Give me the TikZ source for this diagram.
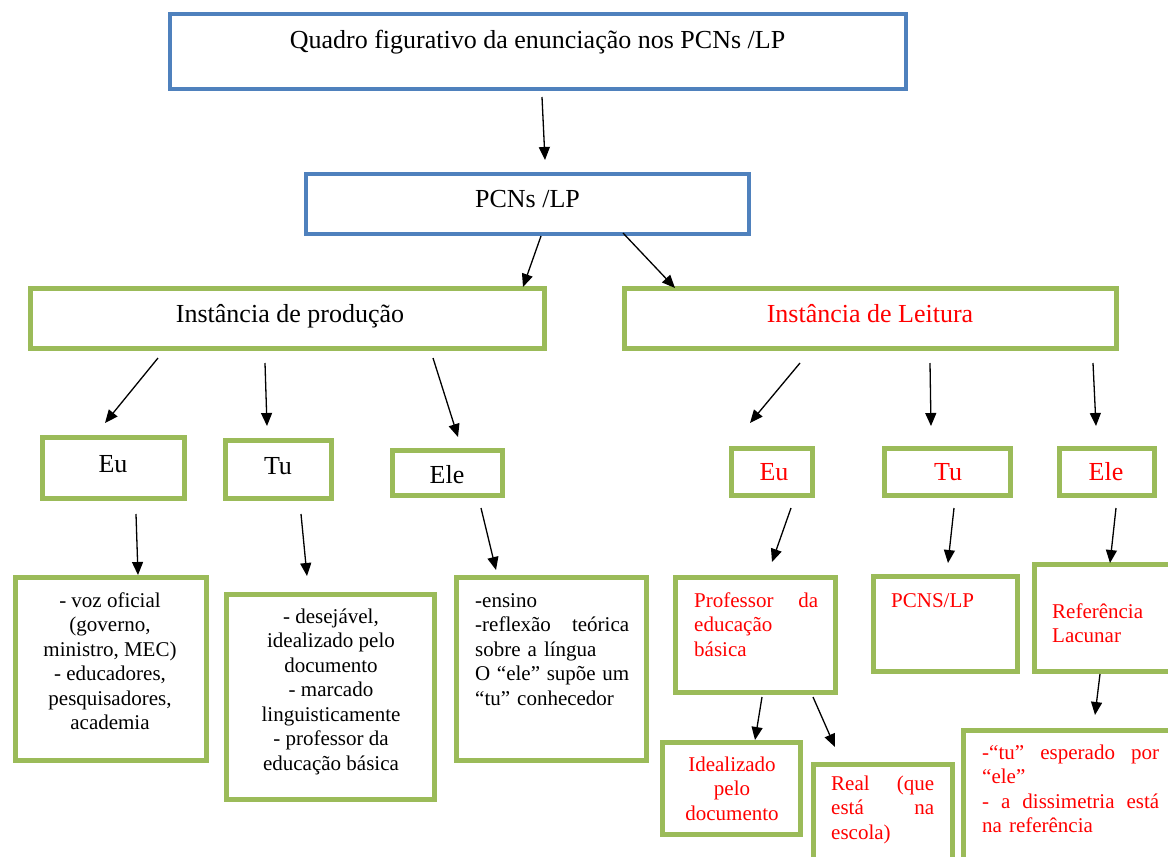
\documentclass[tikz,border=0pt]{standalone}
\usepackage{fontspec}
\setmainfont{Liberation Serif}
\usetikzlibrary{arrows.meta}
\definecolor{bxblue}{HTML}{4F81BD}
\definecolor{bxgreen}{HTML}{9BBB59}
\definecolor{txred}{HTML}{FF0000}
\newcommand{\jline}[1]{\leavevmode\hbox to \linewidth{#1}}
\tikzset{
  bluebox/.style={draw=bxblue, line width=4pt, inner sep=0pt},
  greenbox/.style={draw=bxgreen, line width=5pt, inner sep=0pt},
  bigtxt/.style={font=\fontsize{26}{30}\selectfont, inner sep=0pt},
  smalltxt/.style={font=\fontsize{21}{24.5}\selectfont, inner sep=0pt},
  redtxt/.style={text=txred},
  arr/.style={line width=1.3pt, -{Triangle[length=13pt,width=11pt]}},
}
\begin{document}
\begin{tikzpicture}[x=1pt,y=-1pt]
\useasboundingbox (0,0) rectangle (1168,857);
\clip (0,0) rectangle (1168,857);
\fill[white] (0,0) rectangle (1168,857);

% boxes
\node[bluebox, minimum width=736pt, minimum height=75pt] (top) at (538,51.5) {};
\node[bluebox, minimum width=443pt, minimum height=60pt] (pcn) at (527.5,204) {};
\node[greenbox, minimum width=514pt, minimum height=60pt] (prod) at (287.5,318.5) {};
\node[greenbox, minimum width=492pt, minimum height=60pt] (leit) at (870.5,318.5) {};
\node[greenbox, minimum width=142pt, minimum height=61pt] (eua) at (113.5,468) {};
\node[greenbox, minimum width=106pt, minimum height=58pt] (tua) at (278.5,469.5) {};
\node[greenbox, minimum width=110pt, minimum height=45pt] (elea) at (447.5,473) {};
\node[greenbox, minimum width=81pt, minimum height=47pt] (eub) at (772,472) {};
\node[greenbox, minimum width=126pt, minimum height=47pt] (tub) at (947.5,472) {};
\node[greenbox, minimum width=95pt, minimum height=47pt] (eleb) at (1107,472) {};
\node[greenbox, minimum width=191pt, minimum height=183pt] (voz) at (111,669) {};
\node[greenbox, minimum width=208pt, minimum height=205pt] (des) at (330.5,697) {};
\node[greenbox, minimum width=190pt, minimum height=183pt] (ens) at (551.5,669) {};
\node[greenbox, minimum width=160pt, minimum height=115pt] (prof) at (755.5,635) {};
\node[greenbox, minimum width=138pt, minimum height=92pt] (idea) at (731.5,788.5) {};
\node[greenbox, minimum width=139pt, minimum height=113pt] (real) at (883,821) {};
\node[greenbox, minimum width=144pt, minimum height=95pt] (pcns) at (945.5,624) {};
\node[greenbox, minimum width=153pt, minimum height=107pt] (ref) at (1111,618) {};
\node[greenbox, minimum width=224pt, minimum height=147pt] (dis) at (1075.5,804) {};

% texts
\node[bigtxt, anchor=base] (toptxt) at (537.5,48) {Quadro figurativo da enunciação nos PCNs /LP};
\node[bigtxt, anchor=base] (pcntxt) at (527.5,207) {PCNs /LP};
\node[bigtxt, anchor=base] (prodtxt) at (290,322) {Instância de produção};
\node[bigtxt, redtxt, anchor=base] (leittxt) at (870,322) {Instância de Leitura};
\node[bigtxt, anchor=base] (euatxt) at (113,472) {Eu};
\node[bigtxt, anchor=base] (tuatxt) at (278,474) {Tu};
\node[bigtxt, anchor=base] (eleatxt) at (447,483) {Ele};
\node[bigtxt, redtxt, anchor=base] (eubtxt) at (774,480) {Eu};
\node[bigtxt, redtxt, anchor=base] (tubtxt) at (948,480) {Tu};
\node[bigtxt, redtxt, anchor=base] (elebtxt) at (1106,480) {Ele};

\node[smalltxt, align=center, anchor=north] (voztxt) at (110,590)
  {\strut - voz oficial\\(governo,\\ministro, MEC)\\- educadores,\\pesquisadores,\\academia};
\node[smalltxt, align=center, anchor=north] (destxt) at (331,606)
  {\strut - desejável,\\idealizado pelo\\documento\\ - marcado\\linguisticamente\\- professor da\\educação básica};
\node[smalltxt, text width=154pt, align=left, anchor=north west] (enstxt) at (475,590)
  {\strut -ensino\\\jline{-reflexão\hfill teórica}\\sobre a língua\\\jline{O\hfill “ele”\hfill supõe\hfill um}\\“tu” conhecedor};
\node[smalltxt, redtxt, text width=124pt, align=left, anchor=north west] (proftxt) at (694,590)
  {\strut\jline{Professor\hfill da}\\educação\\básica};
\node[smalltxt, redtxt, align=center, anchor=north] (ideatxt) at (732,754)
  {\strut Idealizado\\pelo\\documento};
\node[smalltxt, redtxt, text width=103pt, align=left, anchor=north west] (realtxt) at (831,773)
  {\strut\jline{Real\hfill (que}\\\jline{está\hfill na}\\escola)};
\node[smalltxt, redtxt, anchor=base west] (pcnstxt) at (891,607) {PCNS/LP};
\node[smalltxt, redtxt, align=left, anchor=north west] (reftxt) at (1052,601)
  {\strut Referência\\Lacunar};
\node[smalltxt, redtxt, text width=177pt, align=left, anchor=north west] (distxt) at (982,742)
  {\strut\jline{-“tu”\hfill esperado\hfill por}\\“ele”\\\jline{-\hfill a\hfill dissimetria\hfill está}\\na referência};

% connectors
\draw[arr] ([shift={(4,45.5)}]top.center) -- ([shift={(17.5,-44)}]pcn.center);
\draw[arr] ([shift={(13.5,32)}]pcn.center) -- ([shift={(235.5,-31.5)}]prod.center);
\draw[arr] ([shift={(95.5,29)}]pcn.center) -- ([shift={(-195.5,-30.5)}]leit.center);
\draw[arr] ([shift={(-129.5,39.5)}]prod.center) -- ([shift={(-8.5,-45)}]eua.center);
\draw[arr] ([shift={(-22.5,44.5)}]prod.center) -- ([shift={(-11.5,-43.5)}]tua.center);
\draw[arr] ([shift={(145.5,39.5)}]prod.center) -- ([shift={(10.5,-36)}]elea.center);
\draw[arr] ([shift={(-70.5,44.5)}]leit.center) -- ([shift={(-22,-49)}]eub.center);
\draw[arr] ([shift={(59.5,44.5)}]leit.center) -- ([shift={(-16.5,-46)}]tub.center);
\draw[arr] ([shift={(222.5,44.5)}]leit.center) -- ([shift={(-11,-46)}]eleb.center);
\draw[arr] ([shift={(22.5,46)}]eua.center) -- ([shift={(27,-94)}]voz.center);
\draw[arr] ([shift={(22.5,44.5)}]tua.center) -- ([shift={(-23.5,-121)}]des.center);
\draw[arr] ([shift={(33.5,35)}]elea.center) -- ([shift={(-55.5,-99)}]ens.center);
\draw[arr] ([shift={(19,36)}]eub.center) -- ([shift={(16.5,-73)}]prof.center);
\draw[arr] ([shift={(6.5,36)}]tub.center) -- ([shift={(2.5,-61)}]pcns.center);
\draw[arr] ([shift={(9,36)}]eleb.center) -- ([shift={(-1,-55)}]ref.center);
\draw[arr] ([shift={(6.5,62)}]prof.center) -- ([shift={(23.5,-48.5)}]idea.center);
\draw[arr] ([shift={(57.5,62)}]prof.center) -- ([shift={(-48,-74)}]real.center);
\draw[arr] ([shift={(-11,56)}]ref.center) -- ([shift={(19.5,-89)}]dis.center);
\end{tikzpicture}
\end{document}
